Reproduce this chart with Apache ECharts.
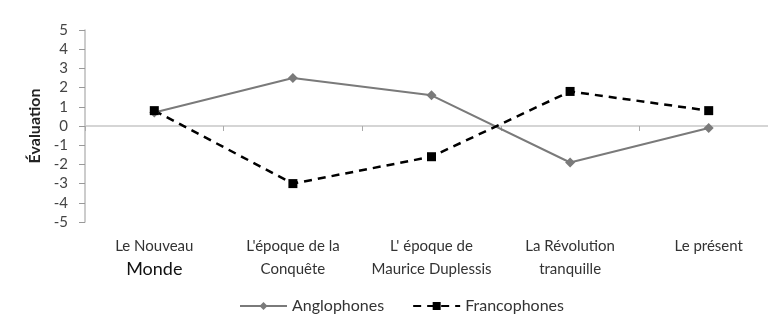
<!DOCTYPE html>
<html><head><meta charset="utf-8">
<script src="https://cdn.jsdelivr.net/npm/echarts@6/dist/echarts.min.js"></script>
<style>html,body{margin:0;padding:0;background:#fff;overflow:hidden;width:768px;height:332px}#c{width:780px;height:332px}</style>
</head><body><div id="c"></div>
<script>
const categories = ["Le Nouveau\n{b|Monde}", "L'époque de la\nConquête", "L' époque de\nMaurice Duplessis", "La Révolution\ntranquille", "Le présent"];
const anglophones = [0.7, 2.5, 1.6, -1.9, -0.1];
const francophones = [0.8, -3.0, -1.6, 1.8, 0.8];
const yTicks = { min: -5, max: 5, interval: 1 };

const font = "Lato, 'Open Sans', sans-serif";
const chart = echarts.init(document.getElementById('c'), null, {renderer: 'canvas'});
chart.setOption({
  animation: false,
  textStyle: { fontFamily: font },
  grid: { left: 85, right: 2, top: 30, bottom: 110, containLabel: false },
  legend: {
    bottom: 13, left: 234, itemWidth: 47, itemHeight: 10, itemGap: 28,
    textStyle: { fontSize: 16, color: '#333', fontFamily: font },
    data: ['Anglophones', 'Francophones']
  },
  xAxis: [{
    type: 'category', data: categories, position: 'bottom',
    boundaryGap: true,
    axisLine: { onZero: true, lineStyle: { color: '#c8c8c8', width: 1.5 } },
    axisTick: { show: true, length: 5, lineStyle: { color: '#aaa' } },
    axisLabel: { show: false }, splitLine: { show: false }
  }, {
    type: 'category', data: categories, position: 'bottom',
    boundaryGap: true,
    axisLine: { show: false, onZero: false }, axisTick: { show: false },
    axisLabel: {
      show: true, interval: 0, margin: 13, fontSize: 15, color: '#333', lineHeight: 23,
      fontFamily: font,
      rich: { b: { fontSize: 18, color: '#111', lineHeight: 23, fontFamily: font } }
    }
  }],
  yAxis: {
    type: 'value', min: yTicks.min, max: yTicks.max, interval: yTicks.interval,
    name: 'Évaluation', nameLocation: 'middle', nameGap: 39, nameRotate: 90,
    nameTextStyle: { fontSize: 16, fontWeight: 'bold', color: '#222', fontFamily: font },
    axisLine: { show: true, lineStyle: { color: '#bbb', width: 1.5 } },
    axisTick: { show: true, length: 6, lineStyle: { color: '#999' } },
    axisLabel: { fontSize: 15, color: '#444', margin: 17 },
    splitLine: { show: false }
  },
  series: [{
    name: 'Anglophones', type: 'line', data: anglophones, xAxisIndex: 0,
    symbol: 'diamond', symbolSize: 10,
    lineStyle: { color: '#7a7a7a', width: 2 },
    itemStyle: { color: '#7a7a7a' }
  }, {
    name: 'Francophones', type: 'line', data: francophones, xAxisIndex: 0,
    symbol: 'rect', symbolSize: 9,
    lineStyle: { color: '#000', width: 2.5, type: [8, 6] },
    itemStyle: { color: '#000' }
  }]
});
</script></body></html>
